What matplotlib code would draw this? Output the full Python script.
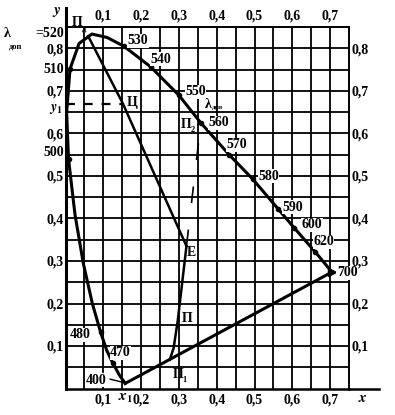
import matplotlib
matplotlib.use("Agg")
import matplotlib.pyplot as plt

plt.rcParams['font.family'] = ['Liberation Serif', 'DejaVu Serif']
plt.rcParams['font.weight'] = 'bold'
plt.rcParams['mathtext.fontset'] = 'stix'

# спектральный локус (длина волны, x, y)
wl = [400, 460, 470, 475, 480, 485, 490, 495, 500, 505, 510, 515, 520, 525,
      530, 540, 550, 560, 570, 580, 590, 600, 620, 700]
loc_x = [0.158, 0.143, 0.125, 0.109, 0.093, 0.071, 0.047, 0.025, 0.008, 0.003,
         0.012, 0.036, 0.070, 0.110, 0.155, 0.225, 0.300, 0.358, 0.433, 0.495,
         0.562, 0.605, 0.660, 0.705]
loc_y = [0.012, 0.031, 0.060, 0.090, 0.132, 0.200, 0.295, 0.410, 0.540, 0.650,
         0.752, 0.812, 0.834, 0.826, 0.805, 0.757, 0.690, 0.625, 0.550, 0.493,
         0.423, 0.378, 0.322, 0.274]

# подписанные длины волн на кривой
marked_wl = [470, 480, 500, 510, 530, 540, 550, 560, 570, 580, 590, 600, 620]

# линия Пд - Ц - E
line1_x = [0.060, 0.152, 0.320]
line1_y = [0.829, 0.670, 0.335]
# линия E - П - П1
line2_x = [0.320, 0.297, 0.286, 0.276]
line2_y = [0.335, 0.160, 0.095, 0.068]
# точка белого E и lambda доп (560)
white = (0.320, 0.335)
dom = (0.358, 0.625)
y1 = 0.670
x1 = 0.158

x_ticks = [0.1, 0.2, 0.3, 0.4, 0.5, 0.6, 0.7]
y_ticks = [0.1, 0.2, 0.3, 0.4, 0.5, 0.6, 0.7, 0.8]
x_labels = ['0,1', '0,2', '0,3', '0,4', '0,5', '0,6', '0,7']
y_labels = ['0,1', '0,2', '0,3', '0,4', '0,5', '0,6', '0,7', '0,8']

fig = plt.figure(figsize=(3.95, 4.15), dpi=100)
ax = fig.add_axes([65.5 / 395, 26.5 / 415, 283.5 / 395, 361.25 / 415])
ax.set_xlim(0, 0.75)
ax.set_ylim(0, 0.85)

ax.set_xticks(x_ticks)
ax.set_xticklabels(x_labels)
ax.set_yticks(y_ticks)
ax.set_yticklabels(y_labels)
ax.set_xticks([i * 0.05 for i in range(1, 15)], minor=True)
ax.set_yticks([i * 0.05 for i in range(1, 17)], minor=True)
ax.grid(True, which='both', color='black', lw=1.3)
ax.tick_params(which='both', length=0, labelsize=10)
ax.tick_params(axis='x', labeltop=True, pad=3.5)
ax.tick_params(axis='y', labelright=True, pad=1.5)
for s in ax.spines.values():
    s.set_linewidth(1.4)
ax.spines['left'].set_linewidth(2.2)
ax.spines['bottom'].set_linewidth(1.8)

# оси продолжены за рамку
ax.plot([0.75, 0.83], [0, 0], color='black', lw=1.8, clip_on=False)
ax.plot([0, 0], [0.85, 0.895], color='black', lw=2.2, clip_on=False)

# локус и линия пурпурных
ax.plot(loc_x, loc_y, color='black', lw=2.2, clip_on=False, zorder=4)
ax.plot([loc_x[0], loc_x[-1]], [loc_y[0], loc_y[-1]], color='black', lw=2.2, zorder=4)
mx = [loc_x[wl.index(w)] for w in marked_wl]
my = [loc_y[wl.index(w)] for w in marked_wl]
ax.plot(mx, my, 'o', color='black', ms=3, zorder=5)
ax.plot(loc_x[-1], loc_y[-1], '>', color='black', ms=6, zorder=5)

ax.plot(line1_x, line1_y, color='black', lw=1.8, zorder=4)
ax.plot(line2_x, line2_y, color='black', lw=1.8, zorder=4)
ax.plot([white[0], dom[0]], [white[1], dom[1]], color='black', lw=1.2,
        dashes=(10, 16), zorder=4)
ax.plot([0, line1_x[1]], [y1, y1], color='black', lw=1.6, dashes=(4, 4), zorder=4)
ax.plot([0.118, 0.150], [0.022, 0.015], color='black', lw=1.0, zorder=4)

# подписи длин волн
wl_text = {530: (0.165, 0.818), 540: (0.224, 0.775), 550: (0.316, 0.698),
           560: (0.377, 0.625), 570: (0.427, 0.573), 580: (0.510, 0.500),
           590: (0.573, 0.427), 600: (0.625, 0.385), 620: (0.655, 0.345),
           700: (0.718, 0.272), 480: (0.012, 0.126), 470: (0.118, 0.084),
           400: (0.054, 0.020)}
for w, (tx, ty) in wl_text.items():
    ax.text(tx, ty, str(w), fontsize=10, ha='left', va='center', zorder=6,
            bbox=dict(facecolor='white', edgecolor='none', pad=0.3))

ax.text(0.369, 0.669, 'λ', fontsize=10, ha='left', va='center')
ax.text(0.386, 0.662, 'доп', fontsize=5, ha='left', va='center')

# точки
def lab(x, y, s, sub=None):
    t = ax.text(x, y, s, fontsize=10, ha='left', va='center', zorder=6,
                clip_on=False)
    if sub:
        ax.text(x + 0.025, y - 0.014, sub, fontsize=6, ha='left', va='center',
                zorder=6, clip_on=False)
    return t

lab(0.308, 0.164, 'П')
lab(0.284, 0.034, 'П', '1')
lab(0.306, 0.622, 'П', '2')
lab(0.163, 0.672, 'Ц')
lab(0.322, 0.321, 'Е')
lab(0.017, 0.862, 'П', 'д')

# дополнительные подписи слева и снизу
ax.text(-0.003, 0.836, '=520', fontsize=10, ha='right', va='center', clip_on=False)
ax.text(-0.163, 0.836, 'λ', fontsize=10, ha='left', va='center', clip_on=False)
ax.text(-0.150, 0.805, 'доп', fontsize=6, ha='left', va='center', clip_on=False)
ax.text(-0.003, 0.750, '510', fontsize=10, ha='right', va='center', clip_on=False)
ax.text(-0.003, 0.555, '500', fontsize=10, ha='right', va='center', clip_on=False)
ax.text(-0.008, 0.658, '$y_1$', fontsize=10, ha='right', va='center', clip_on=False)
ax.text(x1, -0.024, '$x_1$', fontsize=11, ha='center', va='center', clip_on=False)
ax.text(0.787, -0.024, '$x$', fontsize=11, ha='center', va='center', clip_on=False)
ax.text(-0.022, 0.886, '$y$', fontsize=11, ha='center', va='center', clip_on=False)

fig.savefig('out.png', dpi=100)
